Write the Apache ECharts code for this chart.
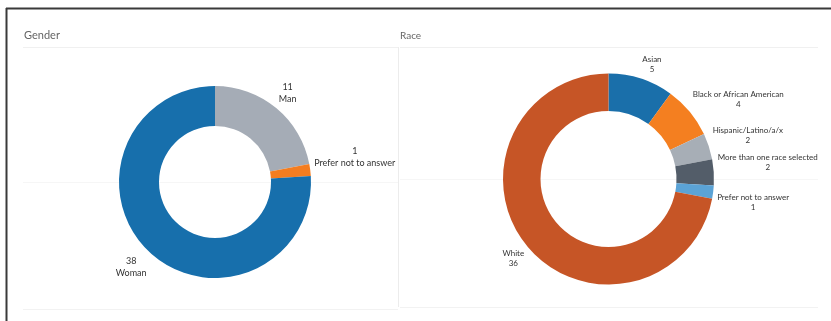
<!DOCTYPE html>
<html>
<head>
<meta charset="utf-8">
<script src="https://cdn.jsdelivr.net/npm/echarts@6/dist/echarts.min.js"></script>
<style>
html,body{margin:0;padding:0;background:#fff;}
#c{width:831px;height:321px;}
</style>
</head>
<body>
<div id="c"></div>
<script>
// Gender panel data (clockwise from 12 o'clock)
const genderCategories = ['Man', 'Prefer not to answer', 'Woman'];
const genderValues = [11, 1, 38];
const genderColors = ['#a5acb6', '#f47d20', '#176fac'];

// Race panel data (clockwise from 12 o'clock)
const raceCategories = ['Asian', 'Black or African American', 'Hispanic/Latino/a/x', 'More than one race selected', 'Prefer not to answer', 'White'];
const raceValues = [5, 4, 2, 2, 1, 36];
const raceColors = ['#1a6faa', '#f47f20', '#a7aeb6', '#535d69', '#5ba3d6', '#c65526'];

const FONT = 'Lato';

function toData(cats, vals, cols) {
  return cats.map((c, i) => ({ name: c, value: vals[i], itemStyle: { color: cols[i] } }));
}

// Tableau-style label placement: label box corner touches the anchor point outside the slice
function cornerLayout(p) {
  const pts = p.labelLinePoints;
  if (!pts || pts.length < 2) return {};
  const ux = pts[1][0] - pts[0][0];
  const uy = pts[1][1] - pts[0][1];
  const w = p.labelRect.width, h = p.labelRect.height;
  return {
    x: pts[1][0] + (ux >= 0 ? 1 : -1) * w / 2,
    y: pts[1][1] + (uy >= 0 ? 1 : -1) * h / 2,
    align: 'center',
    verticalAlign: 'middle'
  };
}

const lineBase = { show: true, length: 4, length2: 1, lineStyle: { opacity: 0 } };

const chart = echarts.init(document.getElementById('c'), null, { renderer: 'canvas' });
chart.setOption({
  backgroundColor: '#fff',
  animation: false,
  title: [
    { text: 'Gender', left: 24, top: 30, padding: 0, textStyle: { fontFamily: FONT, fontSize: 11, fontWeight: 'normal', color: '#666' } },
    { text: 'Race', left: 400, top: 31, padding: 0, textStyle: { fontFamily: FONT, fontSize: 10, fontWeight: 'normal', color: '#666' } }
  ],
  graphic: [
    { type: 'line', shape: { x1: 6, y1: 8.5, x2: 831, y2: 8.5 }, style: { stroke: '#3a3a3a', lineWidth: 2 } },
    { type: 'line', shape: { x1: 6.5, y1: 8, x2: 6.5, y2: 321 }, style: { stroke: '#3a3a3a', lineWidth: 2 } },
    { type: 'line', shape: { x1: 23, y1: 47.5, x2: 398, y2: 47.5 }, style: { stroke: '#f0f0f0', lineWidth: 1 } },
    { type: 'line', shape: { x1: 400, y1: 47.5, x2: 818, y2: 47.5 }, style: { stroke: '#f0f0f0', lineWidth: 1 } },
    { type: 'line', shape: { x1: 398.5, y1: 47, x2: 398.5, y2: 307 }, style: { stroke: '#ececec', lineWidth: 1 } },
    { type: 'line', shape: { x1: 23, y1: 309.5, x2: 398, y2: 309.5 }, style: { stroke: '#f2f2f2', lineWidth: 1 } },
    { type: 'line', shape: { x1: 400, y1: 307.5, x2: 818, y2: 307.5 }, style: { stroke: '#f2f2f2', lineWidth: 1 } },
    { type: 'line', shape: { x1: 23, y1: 182.5, x2: 398, y2: 182.5 }, style: { stroke: '#f6f6f6', lineWidth: 1 } },
    { type: 'line', shape: { x1: 400, y1: 179.5, x2: 818, y2: 179.5 }, style: { stroke: '#f6f6f6', lineWidth: 1 } }
  ],
  series: [
    {
      type: 'pie',
      center: [215, 182],
      radius: [56, 96],
      startAngle: 90,
      clockwise: true,
      avoidLabelOverlap: false,
      silent: true,
      data: toData(genderCategories, genderValues, genderColors),
      label: { show: true, position: 'outside', color: '#333', fontFamily: FONT, fontSize: 9, lineHeight: 12, formatter: '{c}\n{b}' },
      labelLine: lineBase,
      labelLayout: cornerLayout,
      emphasis: { disabled: true }
    },
    {
      type: 'pie',
      center: [608.5, 179],
      radius: [68, 105.5],
      startAngle: 90,
      clockwise: true,
      avoidLabelOverlap: false,
      silent: true,
      data: toData(raceCategories, raceValues, raceColors),
      label: { show: true, position: 'outside', color: '#333', fontFamily: FONT, fontSize: 8, lineHeight: 10, formatter: '{b}\n{c}' },
      labelLine: lineBase,
      labelLayout: cornerLayout,
      emphasis: { disabled: true }
    }
  ]
});
</script>
</body>
</html>
